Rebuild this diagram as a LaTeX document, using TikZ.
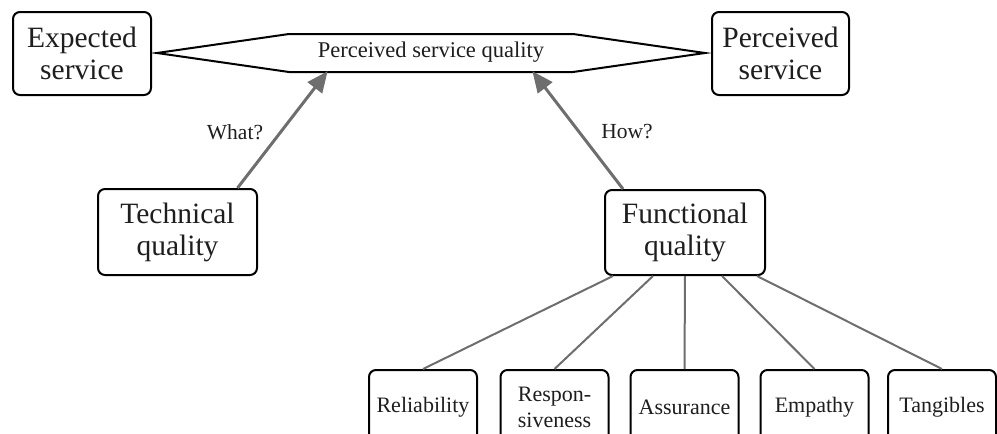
\documentclass[tikz,border=0pt]{standalone}
\usepackage{fontspec}
\setmainfont{Liberation Serif}
\newfontfamily\labelfont{Liberation Serif}
\usetikzlibrary{arrows.meta,calc}
\definecolor{ink}{HTML}{1E1E1E}
\definecolor{wire}{HTML}{6E6E6E}
\begin{document}
\begin{tikzpicture}[x=1pt,y=-1pt,
  box/.style={draw=black, line width=2pt, rounded corners=7pt, fill=white,
    align=center, text=ink, inner sep=0pt,
    font=\labelfont\fontsize{29.5}{32}\selectfont},
  smallbox/.style={box, minimum width=108pt, minimum height=74pt,
    font=\labelfont\fontsize{22}{26}\selectfont},
  question/.style={text=ink, inner sep=0pt, font=\labelfont\fontsize{21.5}{25}\selectfont},
  pointer/.style={draw=wire, line width=3pt,
    -{Triangle[length=21pt,width=18pt]}, shorten >=-1pt},
  branch/.style={draw=wire, line width=2pt}]
\useasboundingbox (0,0) rectangle (997,434);
\clip (0,0) rectangle (997,434);

% the two services on either side
\node[box, minimum width=138pt, minimum height=83pt] (exp) at (82,53.5) {Expected\\service};
\node[box, minimum width=137pt, minimum height=83pt] (perc) at (780.5,53.5) {Perceived\\service};

% hexagonal band linking them
\coordinate (hl) at (157,53);
\coordinate (htl) at (289,34);
\coordinate (htr) at (573,34);
\coordinate (hr) at (705,53);
\coordinate (hbr) at (573,72);
\coordinate (hbl) at (289,72);
\draw[line width=2pt, fill=white, line join=miter]
  (hl) -- (htl) -- (htr) -- (hr) -- (hbr) -- (hbl) -- cycle;
\node[text=ink, inner sep=0pt, font=\labelfont\fontsize{22.5}{26}\selectfont] (psq) at (431,52) {Perceived service quality};
\coordinate (whatTip) at (327,72);
\coordinate (howTip) at (533,72);

% the two quality dimensions
\node[box, minimum width=159pt, minimum height=86pt] (tech) at (177.5,232) {Technical\\quality};
\node[box, minimum width=160pt, minimum height=85pt] (func) at (685,232.5) {Functional\\quality};

\draw[pointer] ([xshift=60pt]tech.north) -- (whatTip);
\draw[pointer] ([xshift=-62pt]func.north) -- (howTip);
\node[question] (what) at (235,132) {What?};
\node[question] (how) at (627,132) {How?};

% five service dimensions
\node[smallbox] (rel) at (423,407) {Reliability};
\node[smallbox] (res) at (554.5,407) {Respon-\\siveness};
\node[smallbox] (ass) at (684.5,407) {Assurance};
\node[smallbox] (emp) at (814.5,407) {Empathy};
\node[smallbox] (tan) at (942,407) {Tangibles};

\draw[branch] ([xshift=-72pt]func.south) -- (rel.north);
\draw[branch] ([xshift=-32pt]func.south) -- (res.north);
\draw[branch] (func.south) -- (ass.north);
\draw[branch] ([xshift=37pt]func.south) -- (emp.north);
\draw[branch] ([xshift=72pt]func.south) -- (tan.north);
\end{tikzpicture}
\end{document}
